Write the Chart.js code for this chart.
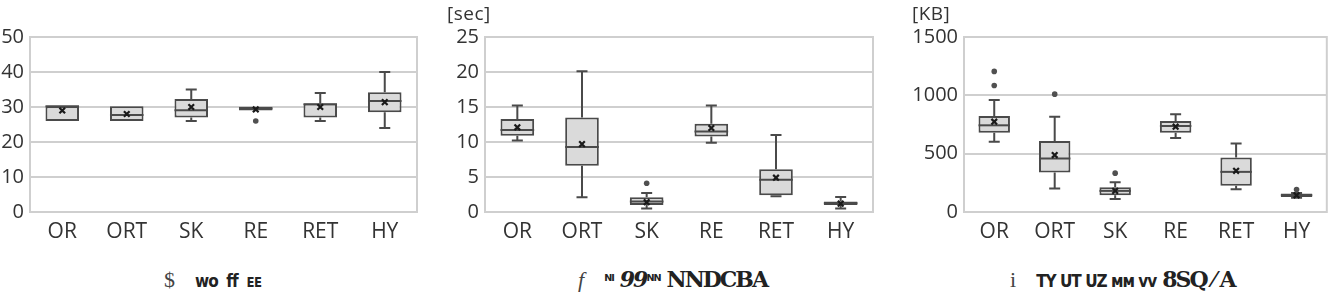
<!DOCTYPE html>
<html>
<head>
<meta charset="utf-8">
<script src="https://cdn.jsdelivr.net/npm/chart.js@4.4.1/dist/chart.umd.min.js"></script>
<style>
  body { margin: 0; background: #fff; width: 1333px; height: 308px; overflow: hidden; position: relative; }
  canvas { position: absolute; top: 0; }
  .unit { position: absolute; top: 0px; font: 19px "Open Sans", sans-serif; letter-spacing: 0.5px; color: #333; }
  .cap { position: absolute; top: 266px; font: bold 22px "DejaVu Serif", serif; color: #222; white-space: nowrap; letter-spacing: -2px; }
  .cap .s { font-weight: normal; font-family: "Liberation Serif", serif; font-size: 22px; margin-right: 20px; color: #444; letter-spacing: 0; }
  .cap .t { font-family: "DejaVu Sans Condensed", sans-serif; font-size: 17px; letter-spacing: -1px; margin-right: 6px; }
</style>
</head>
<body>
<canvas id="chartA" width="425" height="250" style="left:0px"></canvas>
<canvas id="chartB" width="440" height="250" style="left:440px"></canvas>
<canvas id="chartC" width="443" height="250" style="left:890px"></canvas>
<div class="unit" style="left:447px">[sec]</div>
<div class="unit" style="left:912px">[KB]</div>
<div class="cap" style="left:164px"><span class="s">$</span><span class="t">ᴡᴏ&nbsp; ff&nbsp; ᴇᴇ</span></div>
<div class="cap" style="left:578px"><span class="s"><i>f</i></span><span class="t">ᴺᴵ</span><i>99</i><span class="t">ᴺᴺ</span>NNDCBA</div>
<div class="cap" style="left:1010px"><span class="s">i</span><span class="t">TY UT UZ ᴍᴍ ᴠᴠ</span>8SQ ⁄ A</div>
<script>
const categories = ['OR', 'ORT', 'SK', 'RE', 'RET', 'HY'];

// (a) no unit
const aMin = [26, 26, 26, 29, 26, 24];
const aQ1 = [26, 26, 27, 29, 27, 28.5];
const aMed = [30.2, 27.7, 29.1, 29.6, 30.8, 31.7];
const aQ3 = [30.2, 30.2, 32.3, 30.1, 31, 34.2];
const aMax = [30.2, 30.2, 35, 30.1, 34, 40];
const aMean = [29, 28, 30, 29.3, 30, 31.4];
const aOutliers = [[], [], [], [26], [], []];
const aTicks = [0, 10, 20, 30, 40, 50];

// (b) [sec]
const bMin = [10.2, 2.1, 0.5, 9.9, 2.25, 0.5];
const bQ1 = [10.9, 6.6, 1.0, 10.8, 2.4, 1.0];
const bMed = [11.7, 9.3, 1.5, 11.5, 4.6, 1.25];
const bQ3 = [13.3, 13.5, 2.1, 12.6, 6.1, 1.5];
const bMax = [15.2, 20.1, 2.7, 15.2, 11.0, 2.15];
const bMean = [12.1, 9.7, 1.4, 12.0, 4.9, 1.2];
const bOutliers = [[], [], [4.1], [], [], []];
const bTicks = [0, 5, 10, 15, 20, 25];

// (c) [KB]
const cMin = [602, 201, 112, 634, 195, 123];
const cQ1 = [680, 338, 143, 680, 224, 129];
const cMed = [743, 459, 181, 737, 344, 143];
const cQ3 = [823, 608, 212, 780, 467, 158];
const cMax = [961, 817, 255, 837, 588, 163];
const cMean = [774, 488, 181, 731, 353, 143];
const cOutliers = [[1205, 1084], [1010], [333], [], [], [192]];
const cTicks = [0, 500, 1000, 1500];

const lineColor = '#4a4a4a';
const gridColor = '#cfcfcf';
const textColor = '#333333';

// whiskers, caps, median and the plot frame
const boxPlotPlugin = {
    id: 'boxPlot',
    beforeDatasetsDraw(chart) {
        const { ctx, chartArea, scales } = chart;
        const st = chart.options.plugins.boxPlot;
        ctx.save();
        ctx.strokeStyle = gridColor;
        ctx.lineWidth = 2;
        ctx.strokeRect(chartArea.left, chartArea.top, chartArea.right - chartArea.left, chartArea.bottom - chartArea.top);
        ctx.strokeStyle = lineColor;
        ctx.lineWidth = 2;
        categories.forEach((c, i) => {
            const x = scales.x.getPixelForValue(i);
            const pairs = [[st.q3[i], st.max[i]], [st.q1[i], st.min[i]]];
            pairs.forEach(([from, to]) => {
                if (to === from) return;
                const y0 = scales.y.getPixelForValue(from);
                const y1 = scales.y.getPixelForValue(to);
                ctx.beginPath();
                ctx.moveTo(x, y0);
                ctx.lineTo(x, y1);
                ctx.moveTo(x - 5.5, y1);
                ctx.lineTo(x + 5.5, y1);
                ctx.stroke();
            });
        });
        ctx.restore();
    },
    afterDatasetDraw(chart, args) {
        if (args.index !== 2) return;
        const { ctx, scales } = chart;
        const st = chart.options.plugins.boxPlot;
        ctx.save();
        ctx.strokeStyle = lineColor;
        ctx.lineWidth = 2;
        args.meta.data.forEach((bar, i) => {
            const y = scales.y.getPixelForValue(st.med[i]);
            ctx.beginPath();
            ctx.moveTo(bar.x - bar.width / 2, y);
            ctx.lineTo(bar.x + bar.width / 2, y);
            ctx.stroke();
        });
        ctx.restore();
    }
};

function makeBoxChart(id, st, ticks, yWidth, padRight) {
    const outlierPoints = [];
    st.outliers.forEach((list, i) => list.forEach(v => outlierPoints.push({ x: categories[i], y: v })));
    new Chart(document.getElementById(id), {
        type: 'bar',
        data: {
            labels: categories,
            datasets: [
                {
                    type: 'line',
                    data: st.mean,
                    showLine: false,
                    pointStyle: 'crossRot',
                    pointRadius: 4,
                    borderColor: '#1a1a1a',
                    borderWidth: 2.2,
                    order: 0
                },
                {
                    type: 'line',
                    data: outlierPoints,
                    showLine: false,
                    pointStyle: 'circle',
                    pointRadius: 2.8,
                    backgroundColor: '#505050',
                    borderColor: '#505050',
                    borderWidth: 0,
                    order: 1
                },
                {
                    data: categories.map((c, i) => [st.q1[i], st.q3[i]]),
                    backgroundColor: '#dadada',
                    borderColor: lineColor,
                    borderWidth: 2,
                    borderSkipped: false,
                    categoryPercentage: 1,
                    barPercentage: 0.52,
                    order: 3
                }
            ]
        },
        options: {
            responsive: false,
            animation: false,
            layout: { padding: { top: 37, right: padRight, left: 0, bottom: 0 } },
            plugins: {
                legend: { display: false },
                tooltip: { enabled: false },
                boxPlot: st
            },
            scales: {
                x: {
                    grid: { display: false, drawTicks: false },
                    border: { color: gridColor, width: 2 },
                    ticks: { color: textColor, font: { family: 'Open Sans', size: 21 }, padding: 7 },
                    afterFit: s => { s.height = 38; }
                },
                y: {
                    min: ticks[0],
                    max: ticks[ticks.length - 1],
                    afterBuildTicks: s => { s.ticks = ticks.map(v => ({ value: v })); },
                    grid: { color: gridColor, lineWidth: 2, drawTicks: false },
                    border: { color: gridColor, width: 2 },
                    ticks: { color: textColor, font: { family: 'Open Sans', size: 20 }, padding: 6, callback: v => String(v) },
                    afterFit: s => { s.width = yWidth; }
                }
            }
        },
        plugins: [boxPlotPlugin]
    });
}

makeBoxChart('chartA', { min: aMin, q1: aQ1, med: aMed, q3: aQ3, max: aMax, mean: aMean, outliers: aOutliers }, aTicks, 30, 8);
makeBoxChart('chartB', { min: bMin, q1: bQ1, med: bMed, q3: bQ3, max: bMax, mean: bMean, outliers: bOutliers }, bTicks, 45, 7);
makeBoxChart('chartC', { min: cMin, q1: cQ1, med: cMed, q3: cQ3, max: cMax, mean: cMean, outliers: cOutliers }, cTicks, 74, 6);
</script>
</body>
</html>
